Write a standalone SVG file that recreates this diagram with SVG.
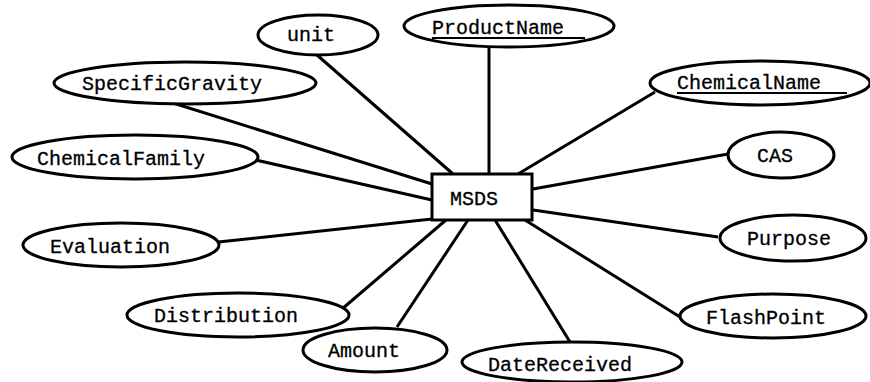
<svg xmlns="http://www.w3.org/2000/svg" width="870" height="382" viewBox="0 0 870 382">
<style>
  .attr ellipse { fill: #ffffff; stroke: #000000; stroke-width: 3; }
  .ent rect { fill: #ffffff; stroke: #000000; stroke-width: 3; }
  text { font-family: "Liberation Mono", "Courier New", monospace; font-size: 20px; fill: #000000; stroke: #000000; stroke-width: 0.3; }
  .links line { stroke: #000000; stroke-width: 3; }
  .ul { stroke: #000000; stroke-width: 2; }
</style>
<rect x="0" y="0" width="870" height="382" fill="#ffffff"/>
<g class="links">
  <line x1="317" y1="55" x2="453" y2="174"/>
  <line x1="489" y1="47" x2="489" y2="174"/>
  <line x1="655" y1="92" x2="518" y2="174"/>
  <line x1="728" y1="154" x2="533" y2="189"/>
  <line x1="173" y1="103" x2="432" y2="184"/>
  <line x1="247" y1="158" x2="432" y2="200"/>
  <line x1="209" y1="243" x2="432" y2="219"/>
  <line x1="335" y1="315" x2="446" y2="220"/>
  <line x1="397" y1="327" x2="468" y2="220"/>
  <line x1="570" y1="342" x2="495" y2="220"/>
  <line x1="680" y1="317" x2="525" y2="220"/>
  <line x1="718" y1="237" x2="533" y2="210"/>
</g>
<g id="MSDS" class="ent">
  <rect x="432" y="174" width="100" height="46"/>
  <text x="450" y="205">MSDS</text>
</g>
<g id="unit" class="attr">
  <ellipse cx="318" cy="35" rx="60" ry="20"/>
  <text x="287" y="41">unit</text>
</g>
<g id="ProductName" class="attr">
  <ellipse cx="509" cy="26" rx="105" ry="21"/>
  <text x="432" y="34">ProductName</text>
  <line class="ul" x1="432" y1="38" x2="585" y2="38"/>
</g>
<g id="ChemicalName" class="attr">
  <ellipse cx="760" cy="83" rx="110" ry="22"/>
  <text x="677" y="89">ChemicalName</text>
  <line class="ul" x1="677" y1="93" x2="847" y2="93"/>
</g>
<g id="SpecificGravity" class="attr">
  <ellipse cx="185" cy="83" rx="131" ry="21"/>
  <text x="82" y="90">SpecificGravity</text>
</g>
<g id="ChemicalFamily" class="attr">
  <ellipse cx="135" cy="157" rx="123" ry="22"/>
  <text x="37" y="165">ChemicalFamily</text>
</g>
<g id="CAS" class="attr">
  <ellipse cx="781" cy="155" rx="53" ry="23"/>
  <text x="757" y="162">CAS</text>
</g>
<g id="Evaluation" class="attr">
  <ellipse cx="121" cy="245" rx="98" ry="22"/>
  <text x="50" y="253">Evaluation</text>
</g>
<g id="Purpose" class="attr">
  <ellipse cx="793" cy="238" rx="73" ry="23"/>
  <text x="747" y="245">Purpose</text>
</g>
<g id="Distribution" class="attr">
  <ellipse cx="238" cy="315" rx="111" ry="22"/>
  <text x="154" y="322">Distribution</text>
</g>
<g id="FlashPoint" class="attr">
  <ellipse cx="773" cy="316" rx="93" ry="22"/>
  <text x="706" y="324">FlashPoint</text>
</g>
<g id="Amount" class="attr">
  <ellipse cx="375" cy="350" rx="72" ry="22"/>
  <text x="328" y="357">Amount</text>
</g>
<g id="DateReceived" class="attr">
  <ellipse cx="572" cy="362" rx="110" ry="20"/>
  <text x="488" y="371">DateReceived</text>
</g>
</svg>
